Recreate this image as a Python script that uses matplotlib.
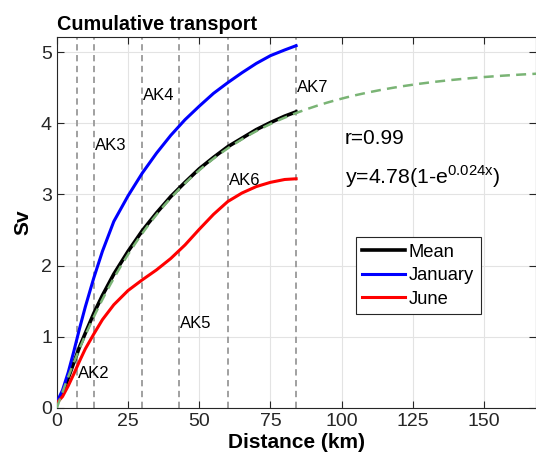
import numpy as np
import matplotlib.pyplot as plt

plt.rcParams['font.family'] = ['Liberation Sans', 'DejaVu Sans']

# distance (km) and cumulative transport (Sv)
dist = [0, 2, 4, 6, 8, 10, 13, 16, 20, 25, 30, 35, 40, 45, 50, 55, 60, 65, 70, 75, 80, 84]
mean = [0.08, 0.2, 0.42, 0.64, 0.86, 1.05, 1.33, 1.58, 1.88, 2.2, 2.49, 2.74, 2.97, 3.17, 3.36, 3.52, 3.67, 3.79, 3.91, 4.01, 4.1, 4.16]
january = [0.08, 0.25, 0.5, 0.8, 1.12, 1.42, 1.83, 2.2, 2.62, 2.98, 3.3, 3.58, 3.83, 4.05, 4.24, 4.42, 4.57, 4.71, 4.84, 4.95, 5.03, 5.09]
june = [0.07, 0.16, 0.31, 0.48, 0.66, 0.83, 1.04, 1.24, 1.45, 1.65, 1.8, 1.94, 2.1, 2.29, 2.51, 2.72, 2.9, 3.02, 3.11, 3.17, 3.21, 3.22]

# exponential fit shown on the chart
fit_a = 4.78
fit_b = 0.024
fit_x = np.linspace(0, 170, 200)

stations = ['AK2', 'AK3', 'AK4', 'AK5', 'AK6', 'AK7']
station_x = [7, 13, 30, 43, 60, 84]
label_y = [0.48, 3.69, 4.39, 1.18, 3.19, 4.5]

fig = plt.figure(figsize=(5.36, 4.7), dpi=100)
ax = fig.add_axes([0.106, 0.132, 0.894, 0.789])

for sx, name, ly in zip(station_x, stations, label_y):
    ax.axvline(sx, color='#999999', ls=(0, (3.5, 2.5)), lw=1.3, zorder=1)
    ax.text(sx + 0.3, ly, name, fontsize=12, va='center', ha='left', zorder=5)

ax.plot(dist, mean, color='black', lw=2.6, label='Mean', zorder=3)
ax.plot(dist, january, color='#0000ff', lw=2.2, label='January', zorder=3)
ax.plot(dist, june, color='#ff0000', lw=2.2, label='June', zorder=3)
ax.plot(fit_x, fit_a * (1 - np.exp(-fit_b * fit_x)), color='#7ab475', lw=1.8,
        ls=(0, (4, 2.5)), zorder=4)

ax.text(101, 3.79, 'r=0.99', fontsize=15, va='center')
ax.text(101, 3.25, r'y=4.78(1-e$^{\mathregular{0.024x}}$)', fontsize=15.3, va='center')

ax.set_xlim(0, 168.2)
ax.set_ylim(0, 5.21)
ax.set_xticks([0, 25, 50, 75, 100, 125, 150])
ax.set_yticks([0, 1, 2, 3, 4, 5])
ax.tick_params(direction='in', top=True, right=True, labelsize=14, colors='#262626',
               length=5, width=0.8)
ax.grid(True, color='#e3e3e3', lw=0.8)
ax.set_axisbelow(True)
for s in ax.spines.values():
    s.set_color('#262626')
    s.set_linewidth(0.8)

ax.set_xlabel('Distance (km)', fontsize=15, fontweight='bold', labelpad=2)
ax.set_ylabel('Sv', fontsize=15, fontweight='bold', labelpad=6)
ax.set_title('Cumulative transport', fontsize=14.3, fontweight='bold', loc='left', pad=5)

leg = ax.legend(loc='upper left', bbox_to_anchor=(0.624, 0.46), fontsize=13.2,
                fancybox=False, edgecolor='#262626', framealpha=1,
                handlelength=2.35, handletextpad=0.2, labelspacing=0.35,
                borderpad=0.35, borderaxespad=0)
leg.get_frame().set_linewidth(0.8)

fig.savefig('out.png', dpi=100)
